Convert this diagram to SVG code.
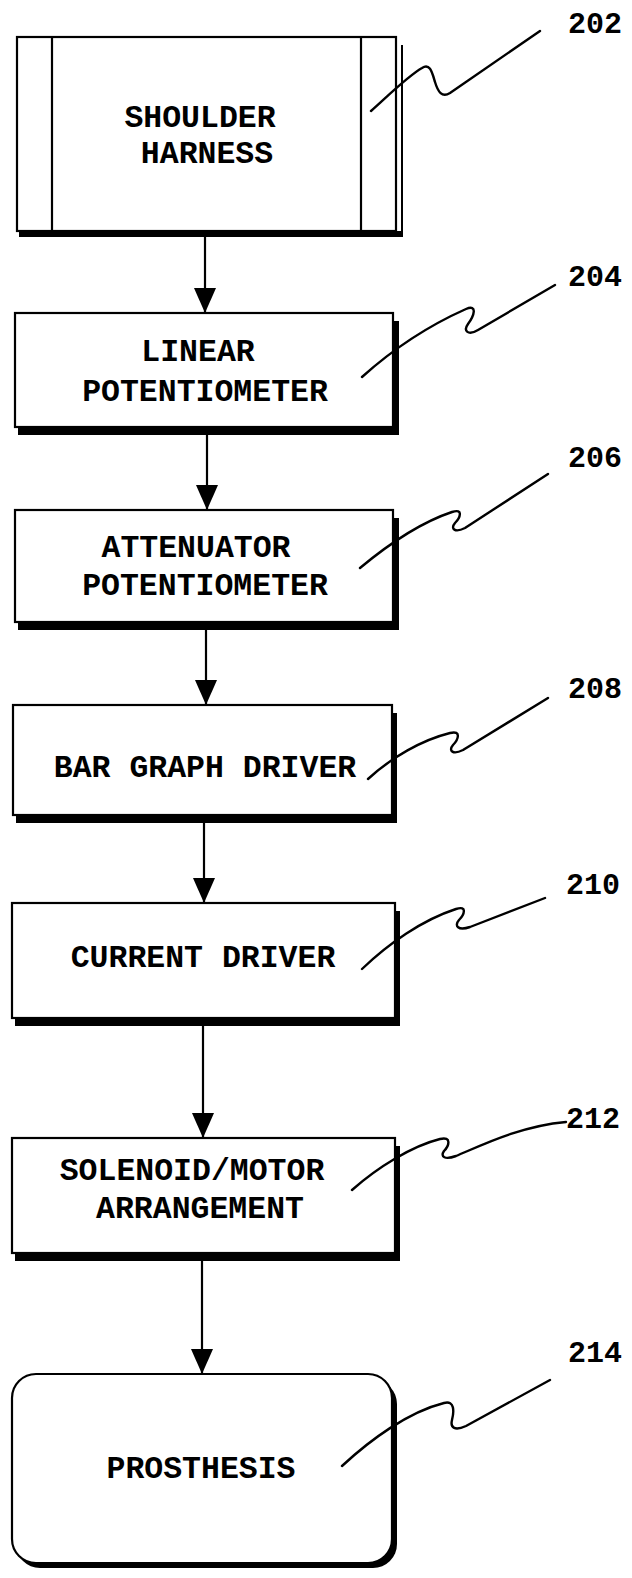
<svg xmlns="http://www.w3.org/2000/svg" width="632" height="1578" viewBox="0 0 632 1578">
<style>
.box{fill:#fff;stroke:#000;stroke-width:2.2}
.shd{fill:#000;stroke:none}
.t{font-family:"Liberation Mono","Courier New","DejaVu Sans Mono",monospace;font-weight:bold;font-size:31.5px;text-anchor:middle;fill:#000}
.n{font-family:"Liberation Mono","Courier New","DejaVu Sans Mono",monospace;font-weight:bold;font-size:30px;fill:#000}
.ld{fill:none;stroke:#000;stroke-width:2.4;stroke-linecap:round;stroke-linejoin:round}
.c{stroke:#000;stroke-width:2.2;fill:none}
</style>
<defs>
<marker id="ah" markerWidth="25" markerHeight="22" refX="25" refY="11" orient="auto" markerUnits="userSpaceOnUse" viewBox="0 0 25 22">
<path d="M0,0 L25,11 L0,22 Z" fill="#000"/>
</marker>
</defs>
<rect width="632" height="1578" fill="#fff"/>
<g id="connectors">
<line class="c" x1="205" y1="236" x2="205" y2="313" marker-end="url(#ah)"/>
<line class="c" x1="207" y1="435" x2="207" y2="510" marker-end="url(#ah)"/>
<line class="c" x1="206" y1="630" x2="206" y2="705" marker-end="url(#ah)"/>
<line class="c" x1="204" y1="823" x2="204" y2="903" marker-end="url(#ah)"/>
<line class="c" x1="203" y1="1026" x2="203" y2="1138" marker-end="url(#ah)"/>
<line class="c" x1="202" y1="1261" x2="202" y2="1374" marker-end="url(#ah)"/>
</g>
<g id="n202">
<rect class="shd" x="19" y="45" width="384" height="192"/>
<rect x="397" y="45" width="4" height="186" fill="#fff"/>
<rect class="box" x="17" y="37" width="379" height="194"/>
<line class="c" x1="52" y1="37" x2="52" y2="231"/>
<line class="c" x1="361" y1="37" x2="361" y2="231"/>
<text class="t" x="200" y="127">SHOULDER</text>
<text class="t" x="207" y="163">HARNESS</text>
<path class="ld" d="M371,111 C390,94 408,76 422,68 C430,63 432,72 435,82 C438,92 442,98 450,93 L540,31"/>
<text class="n" x="568" y="33">202</text>
</g>
<g id="n204">
<rect class="shd" x="18" y="321" width="381" height="114"/>
<rect class="box" x="15" y="313" width="378" height="114"/>
<text class="t" x="198" y="361">LINEAR</text>
<text class="t" x="205" y="401">POTENTIOMETER</text>
<path class="ld" d="M362,377 C392,350 430,325 466,309 C478,304 474,316 468,324 C463,331 468,336 478,330 L555,285"/>
<text class="n" x="568" y="286">204</text>
</g>
<g id="n206">
<rect class="shd" x="18" y="518" width="381" height="112"/>
<rect class="box" x="15" y="510" width="378" height="112"/>
<text class="t" x="196" y="557">ATTENUATOR</text>
<text class="t" x="205" y="595">POTENTIOMETER</text>
<path class="ld" d="M360,568 C390,543 422,522 452,512 C464,508 460,518 455,523 C450,529 455,533 465,528 L548,474"/>
<text class="n" x="568" y="467">206</text>
</g>
<g id="n208">
<rect class="shd" x="16" y="713" width="381" height="110"/>
<rect class="box" x="13" y="705" width="379" height="110"/>
<text class="t" x="205" y="777">BAR GRAPH DRIVER</text>
<path class="ld" d="M368,779 C392,757 422,740 450,733 C462,730 458,740 453,745 C448,751 453,755 463,750 L548,698"/>
<text class="n" x="568" y="698">208</text>
</g>
<g id="n210">
<rect class="shd" x="15" y="911" width="385" height="115"/>
<rect class="box" x="12" y="903" width="383" height="115"/>
<text class="t" x="203" y="967">CURRENT DRIVER</text>
<path class="ld" d="M362,969 C388,944 422,920 456,909 C468,905 464,915 459,920 C454,926 458,931 470,927 L545,898"/>
<text class="n" x="566" y="894">210</text>
</g>
<g id="n212">
<rect class="shd" x="15" y="1146" width="385" height="115"/>
<rect class="box" x="12" y="1138" width="383" height="115"/>
<text class="t" x="192" y="1180">SOLENOID/MOTOR</text>
<text class="t" x="200" y="1218">ARRANGEMENT</text>
<path class="ld" d="M352,1190 C378,1167 412,1146 440,1139 C452,1136 449,1146 444,1151 C440,1157 445,1160 456,1156 C480,1146 520,1126 566,1122"/>
<text class="n" x="566" y="1128">212</text>
</g>
<g id="n214">
<rect class="shd" x="16" y="1380" width="381" height="188" rx="24" ry="24"/>
<rect class="box" x="12" y="1374" width="380" height="189" rx="24" ry="24"/>
<text class="t" x="201" y="1478">PROSTHESIS</text>
<path class="ld" d="M342,1466 C370,1440 408,1412 444,1403 C455,1400 454,1412 452,1420 C450,1428 455,1431 466,1426 L550,1380"/>
<text class="n" x="568" y="1362">214</text>
</g>
</svg>
